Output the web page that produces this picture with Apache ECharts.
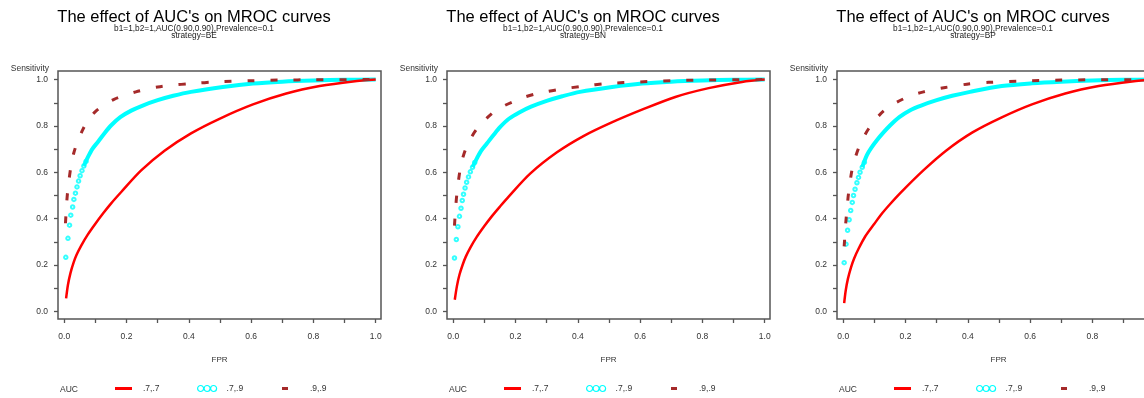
<!DOCTYPE html>
<html lang="en">
  <head>
    <meta charset="UTF-8" />
    <title>The effect of AUC's on MROC curves</title>
    <script src="https://cdn.jsdelivr.net/npm/echarts@6/dist/echarts.min.js"></script>
    <style>
      body {
        margin: 0;
        overflow: hidden;
        background-color: #ffffff;
      }
      #chart {
        width: 1170px;
        height: 398px;
      }
    </style>
  </head>
  <body>
    <div id="chart"></div>
    <script>
      // ---- data ----
      var strategies = ["BE", "BN", "BP"];
      var titleText = "The effect of AUC's on MROC curves";
      var subText = "b1=1,b2=1,AUC(0.90,0.90),Prevalence=0.1";
      var aucNames = [".7,.7", ".7,.9", ".9,.9"];
      var tickValues = [0, 0.1, 0.2, 0.3, 0.4, 0.5, 0.6, 0.7, 0.8, 0.9, 1];
      var labelValues = [0, 0.2, 0.4, 0.6, 0.8, 1];

      // AUC .7,.7 (red line)
      var red_BE = [[0.006,0.056],[0.012,0.115],[0.02,0.165],[0.03,0.21],[0.04,0.245],[0.055,0.285],[0.075,0.33],[0.1,0.378],[0.125,0.423],[0.15,0.465],[0.183,0.515],[0.247,0.608],[0.322,0.693],[0.407,0.768],[0.5,0.832],[0.606,0.893],[0.713,0.94],[0.82,0.972],[0.927,0.992],[1,1]];
      var red_BN = [[0.005,0.05],[0.012,0.11],[0.02,0.158],[0.03,0.2],[0.04,0.235],[0.055,0.275],[0.075,0.32],[0.1,0.368],[0.125,0.412],[0.15,0.452],[0.178,0.495],[0.247,0.594],[0.333,0.686],[0.418,0.756],[0.509,0.815],[0.606,0.87],[0.713,0.925],[0.82,0.963],[0.927,0.99],[1,1]];
      var red_BP = [[0.003,0.035],[0.008,0.09],[0.015,0.14],[0.025,0.19],[0.035,0.228],[0.05,0.272],[0.07,0.322],[0.1,0.378],[0.125,0.423],[0.15,0.462],[0.183,0.51],[0.258,0.609],[0.33,0.693],[0.415,0.772],[0.509,0.837],[0.606,0.893],[0.713,0.94],[0.82,0.972],[0.927,0.992],[1,1]];

      // AUC .7,.9 (cyan circles): separate dots at low FPR, then a dense band
      var cyanDots_BE = [[0.005,0.233],[0.012,0.315],[0.017,0.372],[0.021,0.415],[0.027,0.45],[0.031,0.483],[0.036,0.51],[0.041,0.537],[0.046,0.562],[0.051,0.585],[0.057,0.607],[0.063,0.627],[0.07,0.647]];
      var cyanDots_BN = [[0.004,0.23],[0.01,0.31],[0.015,0.365],[0.02,0.41],[0.025,0.445],[0.029,0.478],[0.033,0.505],[0.038,0.532],[0.043,0.557],[0.049,0.58],[0.055,0.602],[0.062,0.622],[0.069,0.642]];
      var cyanDots_BP = [[0.003,0.21],[0.009,0.29],[0.014,0.35],[0.019,0.395],[0.024,0.435],[0.029,0.47],[0.033,0.5],[0.038,0.527],[0.044,0.555],[0.049,0.578],[0.054,0.6],[0.061,0.622],[0.068,0.643]];
      var cyanBand_BE = [[0.063,0.627],[0.076,0.665],[0.09,0.7],[0.108,0.731],[0.13,0.77],[0.151,0.803],[0.18,0.838],[0.215,0.866],[0.25,0.887],[0.3,0.911],[0.35,0.93],[0.407,0.947],[0.509,0.968],[0.606,0.983],[0.7,0.991],[0.8,0.996],[0.9,0.999],[1,1]];
      var cyanBand_BN = [[0.062,0.622],[0.076,0.66],[0.09,0.693],[0.108,0.724],[0.13,0.762],[0.151,0.796],[0.18,0.832],[0.215,0.86],[0.25,0.883],[0.3,0.908],[0.35,0.928],[0.407,0.947],[0.51,0.968],[0.606,0.983],[0.7,0.991],[0.8,0.996],[0.9,0.999],[1,1]];
      var cyanBand_BP = [[0.061,0.622],[0.076,0.674],[0.09,0.705],[0.108,0.738],[0.13,0.773],[0.151,0.803],[0.18,0.838],[0.215,0.868],[0.25,0.888],[0.3,0.911],[0.35,0.93],[0.407,0.947],[0.509,0.972],[0.606,0.984],[0.7,0.991],[0.8,0.996],[0.9,0.999],[1,1]];

      // AUC .9,.9 (brown dashes)
      var brown_BE = [[0.004,0.38],[0.008,0.47],[0.012,0.53],[0.022,0.63],[0.03,0.68],[0.042,0.73],[0.06,0.785],[0.076,0.825],[0.1,0.862],[0.13,0.892],[0.16,0.915],[0.194,0.932],[0.23,0.947],[0.263,0.958],[0.3,0.968],[0.338,0.975],[0.413,0.983],[0.488,0.99],[0.6,0.995],[0.7,0.998],[0.8,0.999],[1,1]];
      var brown_BN = [[0.004,0.37],[0.008,0.45],[0.012,0.511],[0.022,0.612],[0.03,0.66],[0.042,0.707],[0.06,0.755],[0.081,0.796],[0.105,0.83],[0.135,0.865],[0.165,0.888],[0.199,0.908],[0.23,0.925],[0.269,0.94],[0.3,0.948],[0.343,0.958],[0.418,0.972],[0.493,0.983],[0.6,0.99],[0.7,0.995],[0.8,0.998],[1,1]];
      var brown_BP = [[0.003,0.28],[0.008,0.38],[0.012,0.44],[0.017,0.509],[0.028,0.609],[0.038,0.66],[0.049,0.703],[0.065,0.75],[0.082,0.789],[0.105,0.83],[0.13,0.865],[0.16,0.893],[0.189,0.914],[0.22,0.932],[0.258,0.947],[0.29,0.957],[0.328,0.966],[0.397,0.98],[0.467,0.988],[0.6,0.995],[0.7,0.998],[0.8,0.999],[1,1]];

      var redData = [red_BE, red_BN, red_BP];
      var cyanDots = [cyanDots_BE, cyanDots_BN, cyanDots_BP];
      var cyanBand = [cyanBand_BE, cyanBand_BN, cyanBand_BP];
      var brownData = [brown_BE, brown_BN, brown_BP];

      // ---- layout / styling ----
      var font = "Liberation Sans, Arial, sans-serif";
      var RED = "#ff0000";
      var CYAN = "#00ffff";
      var BROWN = "#a52a2a";
      var offsets = [0, 389, 779];
      var threeCircles =
        "path://M0,3a3,3 0 1,0 6,0a3,3 0 1,0 -6,0M6.5,3a3,3 0 1,0 6,0a3,3 0 1,0 -6,0M13,3a3,3 0 1,0 6,0a3,3 0 1,0 -6,0";

      const chart = echarts.init(document.getElementById("chart"));

      var titles = [], grids = [], xAxes = [], yAxes = [], series = [], legends = [], graphics = [];

      strategies.forEach(function (s, i) {
        var ox = offsets[i];

        titles.push({
          text: titleText,
          subtext: subText + "\nstrategy=" + s,
          left: 194 + ox,
          top: 9,
          padding: 0,
          textAlign: "center",
          itemGap: -1,
          textStyle: { fontFamily: font, fontSize: 16.5, fontWeight: "normal", color: "#000", lineHeight: 16 },
          subtextStyle: { fontFamily: font, fontSize: 8.3, color: "#222", lineHeight: 7 },
        });

        grids.push({
          left: 58 + ox,
          top: 71,
          width: 323,
          height: 248,
          show: true,
          borderColor: "#555",
          borderWidth: 1.5,
        });

        xAxes.push({
          gridIndex: i,
          type: "value",
          min: -0.02,
          max: 1.017,
          name: "FPR",
          nameLocation: "middle",
          nameGap: 37,
          nameTextStyle: { fontFamily: font, fontSize: 8, color: "#333" },
          axisLine: { show: false, onZero: false },
          splitLine: { show: false },
          axisTick: { show: true, length: 4, customValues: tickValues, lineStyle: { color: "#555", width: 1.3 } },
          axisLabel: {
            customValues: labelValues,
            margin: 13,
            fontFamily: font,
            fontSize: 8.5,
            color: "#333",
            formatter: function (v) { return v.toFixed(1); },
          },
        });

        yAxes.push({
          gridIndex: i,
          type: "value",
          min: -0.033,
          max: 1.037,
          name: "Sensitivity",
          nameLocation: "end",
          nameGap: 2,
          nameTextStyle: { fontFamily: font, fontSize: 8.5, color: "#333", align: "right", verticalAlign: "middle", padding: [0, 9, 0, 0] },
          axisLine: { show: false, onZero: false },
          splitLine: { show: false },
          axisTick: { show: true, length: 4, customValues: tickValues, lineStyle: { color: "#555", width: 1.3 } },
          axisLabel: {
            customValues: labelValues,
            margin: 10,
            fontFamily: font,
            fontSize: 8.5,
            color: "#333",
            formatter: function (v) { return v.toFixed(1); },
          },
        });

        // cyan first, red above it, brown dashes on top
        series.push({
          name: aucNames[1],
          type: "line",
          xAxisIndex: i,
          yAxisIndex: i,
          data: cyanBand[i],
          smooth: 0.3,
          showSymbol: false,
          lineStyle: { color: CYAN, width: 4 },
          itemStyle: { color: CYAN },
        });
        series.push({
          name: aucNames[1],
          type: "scatter",
          xAxisIndex: i,
          yAxisIndex: i,
          data: cyanDots[i],
          symbol: "emptyCircle",
          symbolSize: 3.5,
          itemStyle: { color: CYAN, borderColor: CYAN, borderWidth: 1.2 },
        });
        series.push({
          name: aucNames[0],
          type: "line",
          xAxisIndex: i,
          yAxisIndex: i,
          data: redData[i],
          smooth: 0.3,
          showSymbol: false,
          lineStyle: { color: RED, width: 2.5 },
          itemStyle: { color: RED },
        });
        series.push({
          name: aucNames[2],
          type: "line",
          xAxisIndex: i,
          yAxisIndex: i,
          data: brownData[i],
          smooth: 0.3,
          showSymbol: false,
          lineStyle: { color: BROWN, width: 3, type: [7, 16] },
          itemStyle: { color: BROWN },
        });

        // legend row: one small legend per item so each icon can have its own size
        legends.push({
          left: 115 + ox, top: 384, padding: 0, selectedMode: false,
          itemWidth: 17, itemHeight: 3,
          textStyle: { fontFamily: font, fontSize: 8.5, color: "#333", padding: [0, 0, 0, 6] },
          data: [{ name: aucNames[0], icon: "rect", itemStyle: { color: RED } }],
        });
        legends.push({
          left: 197 + ox, top: 384, padding: 0, selectedMode: false,
          itemWidth: 19, itemHeight: 6,
          textStyle: { fontFamily: font, fontSize: 8.5, color: "#333", padding: [0, 0, 0, 5] },
          data: [{ name: aucNames[1], icon: threeCircles, itemStyle: { color: "rgba(0,0,0,0)", borderColor: CYAN, borderWidth: 1.2 } }],
        });
        legends.push({
          left: 282 + ox, top: 384, padding: 0, selectedMode: false,
          itemWidth: 6, itemHeight: 3,
          textStyle: { fontFamily: font, fontSize: 8.5, color: "#333", padding: [0, 0, 0, 17] },
          data: [{ name: aucNames[2], icon: "rect", itemStyle: { color: BROWN } }],
        });

        graphics.push({
          type: "text",
          left: 60 + ox,
          top: 385,
          style: { text: "AUC", fontFamily: font, fontSize: 8.5, fill: "#333" },
        });
      });

      chart.setOption({
        animation: false,
        backgroundColor: "#ffffff",
        title: titles,
        grid: grids,
        xAxis: xAxes,
        yAxis: yAxes,
        legend: legends,
        graphic: graphics,
        series: series,
      });
    </script>
  </body>
</html>
